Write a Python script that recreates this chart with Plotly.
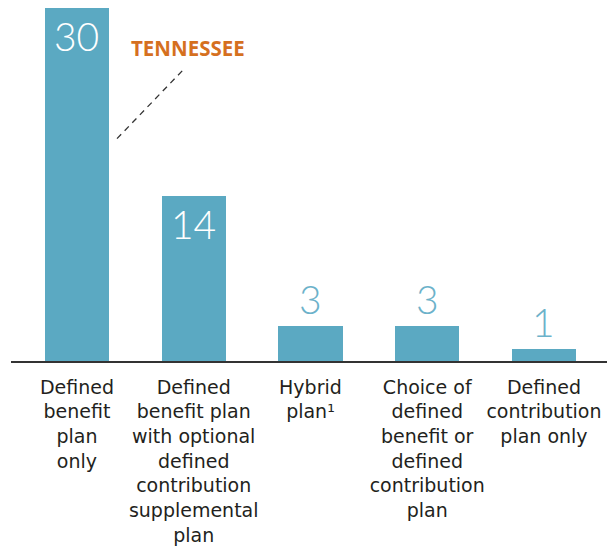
import plotly.graph_objects as go

categories = [
    "Defined<br>benefit<br>plan<br>only",
    "Defined<br>benefit plan<br>with optional<br>defined<br>contribution<br>supplemental<br>plan",
    "Hybrid<br>plan¹",
    "Choice of<br>defined<br>benefit or<br>defined<br>contribution<br>plan",
    "Defined<br>contribution<br>plan only",
]
values = [30, 14, 3, 3, 1]
inside_label = [True, True, False, False, False]

BAR = "#5ba9c2"
LABEL_OUT = "#6cb2ca"
ORANGE = "#d5701f"

fig = go.Figure()
fig.add_trace(go.Bar(
    x=list(range(len(values))), y=values,
    marker=dict(color=BAR, line=dict(width=0)),
    width=0.55, hoverinfo="skip",
))

for i, (v, ins) in enumerate(zip(values, inside_label)):
    if ins:
        fig.add_annotation(x=i, y=v, text=str(v), showarrow=False,
                           yanchor="top", yshift=-3,
                           font=dict(family="Lato", size=39, color="white", weight=300))
    else:
        fig.add_annotation(x=i, y=v, text=str(v), showarrow=False,
                           yanchor="bottom", yshift=2,
                           font=dict(family="Lato", size=39, color=LABEL_OUT, weight=300))

fig.add_annotation(x=0.95, y=26.6, text="<b>TENNESSEE</b>", showarrow=False,
                   font=dict(family="Open Sans", size=20.5, color=ORANGE))
fig.add_shape(type="line", x0=0.343, y0=18.9, x1=0.925, y1=24.9,
              line=dict(color="#333333", width=1.3, dash="6px,5px"))

fig.update_layout(
    width=615, height=546,
    margin=dict(l=3, r=0, t=0, b=193),
    paper_bgcolor="white", plot_bgcolor="white",
    showlegend=False, bargap=0,
    xaxis=dict(range=[-0.565, 4.677], tickmode="array",
               tickvals=list(range(len(values))), ticktext=categories,
               showgrid=False, zeroline=False, showline=True,
               linecolor="#333333", linewidth=1.5, ticks="",
               tickangle=0, ticklabelstandoff=8,
               tickfont=dict(family="DejaVu Sans", size=19, color="#231f20")),
    yaxis=dict(range=[0, 30], visible=False, showgrid=False, zeroline=False),
)

fig.write_html("out.html")
